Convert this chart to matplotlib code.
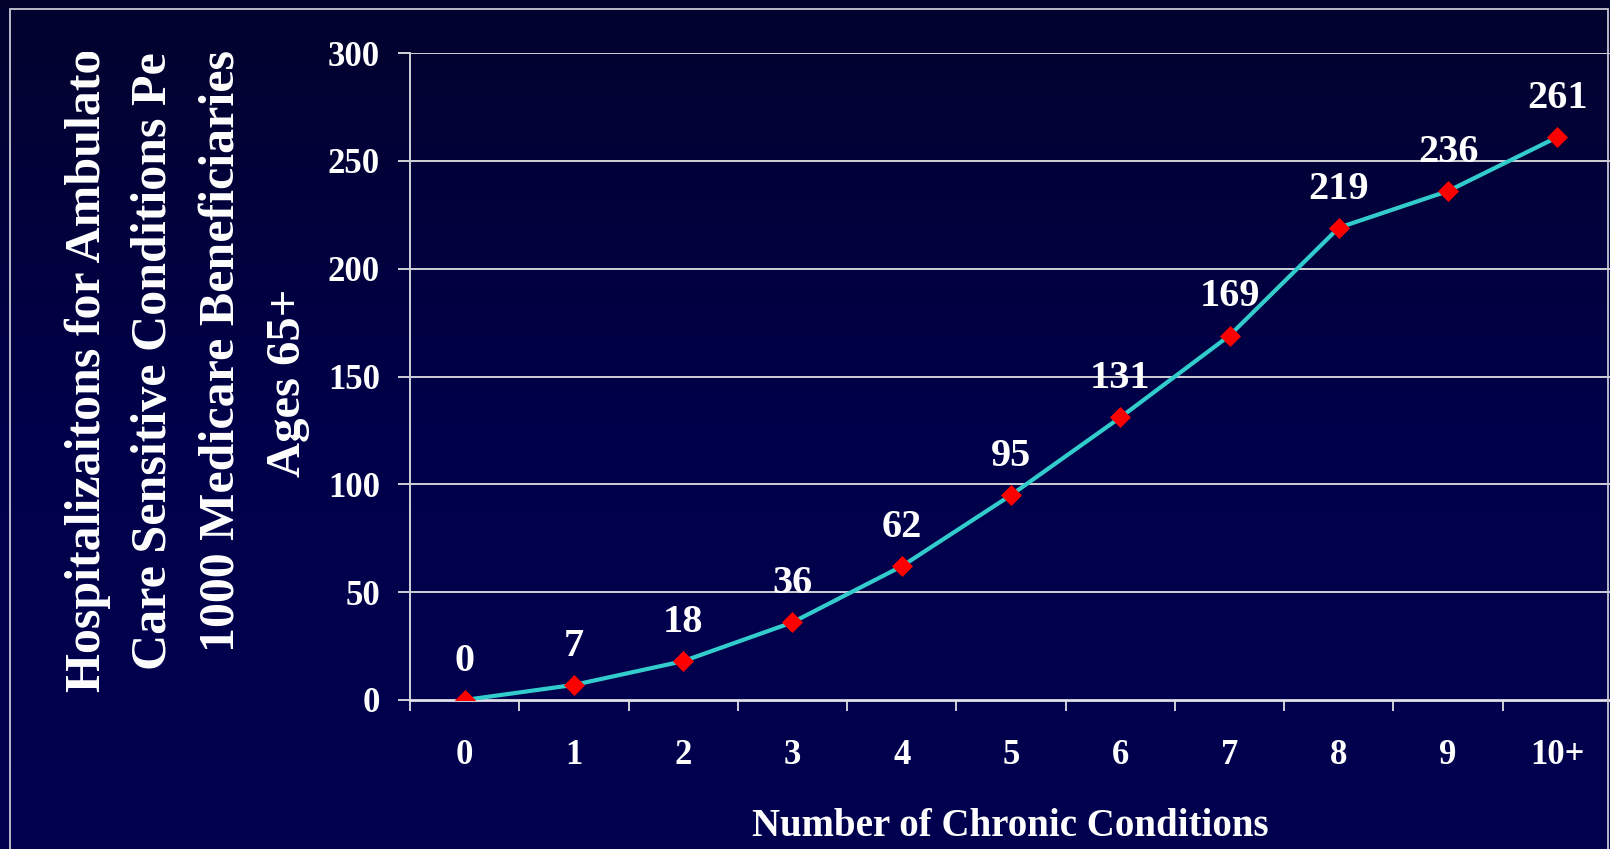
import numpy as np
import matplotlib
matplotlib.use("Agg")
import matplotlib.pyplot as plt
from matplotlib.patches import Rectangle
from matplotlib.transforms import Bbox, TransformedBbox
from matplotlib.colors import LinearSegmentedColormap

categories = ["0", "1", "2", "3", "4", "5", "6", "7", "8", "9", "10+"]
values = [0, 7, 18, 36, 62, 95, 131, 169, 219, 236, 261]
y_ticks = [0, 50, 100, 150, 200, 250, 300]
ylabel_lines = ["Hospitalizaitons for Ambulatory",
                "Care Sensitive Conditions Per",
                "1000 Medicare Beneficiaries",
                "Ages 65+"]
xlabel = "Number of Chronic Conditions"

W, H = 1610, 849
DPI = 100
plt.rcParams['font.family'] = ['Liberation Serif', 'DejaVu Serif']
plt.rcParams['font.weight'] = 'bold'

fig = plt.figure(figsize=(W / DPI, H / DPI), dpi=DPI)

# background gradient
bg = fig.add_axes([0, 0, 1, 1], zorder=-10)
cmap = LinearSegmentedColormap.from_list("bg", ["#03032E", "#00004A", "#00004F"])
grad = np.linspace(0, 1, 256).reshape(-1, 1)
bg.imshow(grad, aspect='auto', cmap=cmap, extent=[0, 1, 0, 1], origin='upper')
bg.set_axis_off()

def fx(px):
    return px / W

def fy(py):
    return 1 - py / H

# border
fig.patches.append(Rectangle((fx(10), fy(870)), fx(1608) - fx(10), fy(9) - fy(870),
                             transform=fig.transFigure, fill=False,
                             edgecolor="#C8C8D4", linewidth=1.3))

ax = fig.add_axes([fx(410), fy(700), fx(1612) - fx(410), fy(53) - fy(700)])
ax.set_facecolor("none")
x = np.arange(len(categories))
ax.set_xlim(-0.5, len(categories) - 0.5)
ax.set_ylim(0, 300)

grid_c = "#D0D0D8"
for yv in y_ticks[1:]:
    ax.axhline(yv, color=grid_c, linewidth=1.4, zorder=1)

ax.plot(x, values, color="#33CCCC", linewidth=3.0, zorder=3,
        marker='D', markersize=10.5, markerfacecolor="#FF0000",
        markeredgecolor="#FF0000", markeredgewidth=0.5)

for xi, v in zip(x, values):
    ax.annotate(str(v), (xi, v), xytext=(0, 21), textcoords='offset points',
                ha='center', va='baseline', color='white', fontsize=29,
                fontweight='bold', zorder=4)

for s in ['top', 'right']:
    ax.spines[s].set_visible(False)
ax.spines['left'].set_color(grid_c)
ax.spines['left'].set_linewidth(1.4)
ax.spines['bottom'].set_color("#E0E0E8")
ax.spines['bottom'].set_linewidth(2.0)

ax.set_yticks(y_ticks)
ax.set_yticklabels([str(t) for t in y_ticks])
ax.tick_params(axis='y', direction='out', length=8.6, width=1.4, color=grid_c,
               pad=13, labelsize=25, labelcolor='white')

ax.set_xticks(x)
ax.set_xticklabels(categories)
ax.set_xticks(np.arange(-0.5, len(categories), 1.0), minor=True)
ax.tick_params(axis='x', which='major', length=0, pad=28, labelsize=25,
               labelcolor='white')
ax.tick_params(axis='x', which='minor', direction='out', length=8, width=1.4,
               color=grid_c)
for lab in ax.get_xticklabels() + ax.get_yticklabels():
    lab.set_fontweight('bold')

fig.text(fx(1010), fy(836), xlabel, ha='center', va='baseline', color='white',
         fontsize=28, fontweight='bold')

# rotated y-label lines (clipped at the top like a text box)
clip = TransformedBbox(Bbox([[0, 0], [1, fy(52)]]), fig.transFigure)
anchors = [(100, 692, 'left'), (166, 670, 'left'), (233, 652, 'left'), (300, 383, 'center')]
sizes = [36, 36, 36, 35]
for line, (px, py, ha), fs in zip(ylabel_lines, anchors, sizes):
    t = fig.text(fx(px), fy(py), line, rotation=90, rotation_mode='anchor',
                 ha=ha, va='baseline', color='white', fontsize=fs,
                 fontweight='bold')
    t.set_clip_box(clip)
    t.set_clip_on(True)

fig.savefig("out.png", dpi=DPI)
